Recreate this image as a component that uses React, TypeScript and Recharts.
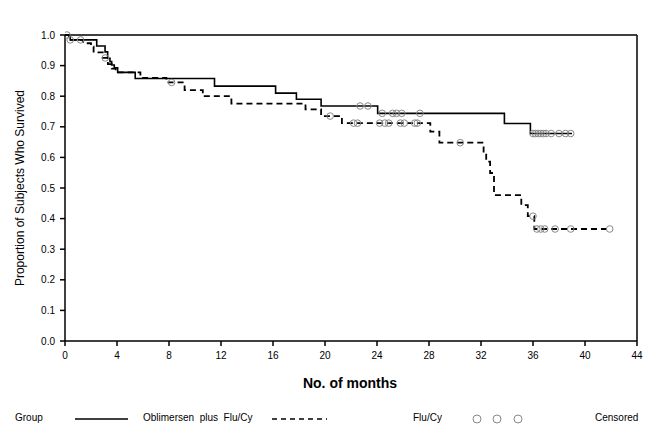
import React from 'react';
import {
  ComposedChart,
  Line,
  Scatter,
  XAxis,
  YAxis,
  ReferenceLine,
} from 'recharts';

// Kaplan-Meier step points (month, proportion surviving)
const oblimersenMonths = [0, 0.4, 2.44, 3.08, 3.28, 3.46, 3.59, 3.79, 4.05, 5.4, 11.5, 16.2, 17.8, 19.7, 24.05, 33.8, 35.8, 39.0];
const oblimersenSurv = [1.0, 0.984, 0.964, 0.945, 0.924, 0.913, 0.902, 0.893, 0.878, 0.858, 0.833, 0.81, 0.79, 0.768, 0.744, 0.711, 0.678, 0.678];

const fluCyMonths = [0, 0.3, 1.4, 2.0, 2.2, 2.9, 3.3, 3.6, 3.9, 5.8, 7.8, 9.2, 10.6, 12.8, 18.5, 19.7, 21.3, 28.1, 28.8, 32.2, 32.4, 32.7, 33.0, 35.1, 35.6, 36.1, 41.9];
const fluCySurv = [1.0, 0.984, 0.973, 0.962, 0.943, 0.925, 0.905, 0.89, 0.878, 0.86, 0.845, 0.82, 0.8, 0.776, 0.757, 0.735, 0.712, 0.684, 0.648, 0.614, 0.586, 0.549, 0.477, 0.444, 0.408, 0.366, 0.366];

// censored observations
const oblimersenCensMonths = [0.15, 22.7, 23.3, 24.4, 25.2, 25.5, 25.9, 27.3, 36.0, 36.2, 36.4, 36.6, 36.8, 37.0, 37.4, 38.0, 38.5, 38.9];
const oblimersenCensSurv = [1.0, 0.768, 0.768, 0.744, 0.744, 0.744, 0.744, 0.744, 0.678, 0.678, 0.678, 0.678, 0.678, 0.678, 0.678, 0.678, 0.678, 0.678];

const fluCyCensMonths = [0.4, 1.2, 3.1, 8.2, 20.4, 22.2, 22.5, 24.2, 24.6, 24.9, 25.8, 26.1, 26.9, 27.1, 30.4, 36.0, 36.3, 36.6, 36.9, 37.7, 38.9, 41.9];
const fluCyCensSurv = [0.984, 0.984, 0.925, 0.845, 0.735, 0.712, 0.712, 0.712, 0.712, 0.712, 0.712, 0.712, 0.712, 0.712, 0.648, 0.408, 0.366, 0.366, 0.366, 0.366, 0.366, 0.366];

const xTicks = [0, 4, 8, 12, 16, 20, 24, 28, 32, 36, 40, 44];
const yTicks = [0, 0.1, 0.2, 0.3, 0.4, 0.5, 0.6, 0.7, 0.8, 0.9, 1.0];

const toRows = (months: number[], surv: number[]) =>
  months.map((m, i) => ({ month: m, surv: surv[i] }));

const oblimersenData = toRows(oblimersenMonths, oblimersenSurv);
const fluCyData = toRows(fluCyMonths, fluCySurv);
const oblimersenCens = toRows(oblimersenCensMonths, oblimersenCensSurv);
const fluCyCens = toRows(fluCyCensMonths, fluCyCensSurv);

const FONT = '"Liberation Sans", Arial, sans-serif';

const CensorDot = (props: any) => {
  const { cx, cy } = props;
  if (cx == null || cy == null) return null;
  return <circle cx={cx} cy={cy} r={3.3} fill="none" stroke="#888" strokeWidth={1} />;
};

export default function App() {
  return (
    <div style={{ position: 'absolute', left: 0, top: 0, width: 672, height: 434, background: '#fff', fontFamily: FONT }}>
      <ComposedChart width={672} height={434} margin={{ top: 35, right: 35, left: 0, bottom: 63 }}>
        <XAxis
          dataKey="month"
          type="number"
          domain={[0, 44]}
          ticks={xTicks}
          allowDataOverflow
          stroke="#000"
          strokeWidth={1.5}
          tickSize={5}
          tickMargin={6}
          height={30}
          tick={{ fontSize: 10, fill: '#000', fontFamily: FONT }}
        />
        <YAxis
          type="number"
          domain={[0, 1]}
          ticks={yTicks}
          tickFormatter={(v: number) => v.toFixed(1)}
          stroke="#000"
          strokeWidth={1.5}
          tickSize={5}
          tickMargin={5}
          width={65}
          tick={{ fontSize: 10, fill: '#000', fontFamily: FONT }}
        />
        <ReferenceLine y={1} stroke="#000" strokeWidth={1.5} />
        <ReferenceLine x={44} stroke="#000" strokeWidth={1.5} />
        <Line
          data={oblimersenData}
          dataKey="surv"
          type="stepAfter"
          stroke="#000"
          strokeWidth={1.6}
          dot={false}
          isAnimationActive={false}
        />
        <Line
          data={fluCyData}
          dataKey="surv"
          type="stepAfter"
          stroke="#000"
          strokeWidth={1.8}
          strokeDasharray="6 4"
          dot={false}
          isAnimationActive={false}
        />
        <Scatter data={oblimersenCens} dataKey="surv" shape={<CensorDot />} isAnimationActive={false} />
        <Scatter data={fluCyCens} dataKey="surv" shape={<CensorDot />} isAnimationActive={false} />
      </ComposedChart>

      <div
        style={{
          position: 'absolute',
          left: 20,
          top: 188,
          transform: 'translate(-50%, -50%) rotate(-90deg)',
          whiteSpace: 'nowrap',
          fontSize: 12,
        }}
      >
        Proportion of Subjects Who Survived
      </div>
      <div
        style={{
          position: 'absolute',
          left: 350,
          top: 383,
          transform: 'translate(-50%, -50%)',
          whiteSpace: 'nowrap',
          fontSize: 14,
          fontWeight: 'bold',
        }}
      >
        No. of months
      </div>

      {/* legend */}
      <div style={{ position: 'absolute', left: 0, top: 410, width: 672, height: 18, fontSize: 10 }}>
        <span style={{ position: 'absolute', left: 15, top: 2 }}>Group</span>
        <svg style={{ position: 'absolute', left: 75, top: 0 }} width={55} height={18}>
          <line x1={0} y1={9} x2={53} y2={9} stroke="#000" strokeWidth={1.6} />
        </svg>
        <span style={{ position: 'absolute', left: 143, top: 2 }}>Oblimersen&nbsp; plus&nbsp; Flu/Cy</span>
        <svg style={{ position: 'absolute', left: 272, top: 0 }} width={56} height={18}>
          <line x1={0} y1={9} x2={55} y2={9} stroke="#000" strokeWidth={1.6} strokeDasharray="5 4" />
        </svg>
        <span style={{ position: 'absolute', left: 413, top: 2 }}>Flu/Cy</span>
        <svg style={{ position: 'absolute', left: 470, top: 0 }} width={56} height={18}>
          <circle cx={7} cy={9} r={4} fill="none" stroke="#888" />
          <circle cx={27} cy={9} r={4} fill="none" stroke="#888" />
          <circle cx={48} cy={9} r={4} fill="none" stroke="#888" />
        </svg>
        <span style={{ position: 'absolute', left: 595, top: 2 }}>Censored</span>
      </div>
    </div>
  );
}
